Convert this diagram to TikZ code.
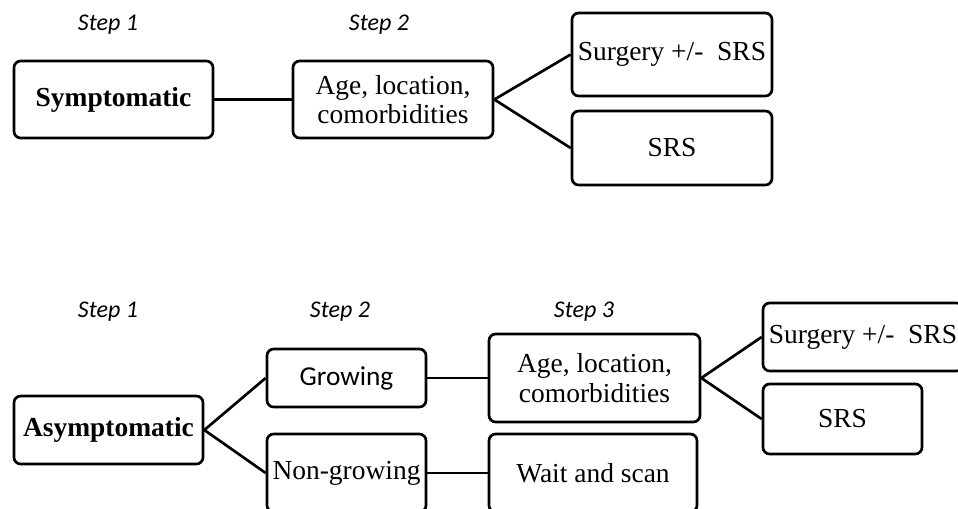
\documentclass[tikz,border=0pt]{standalone}
\usepackage{fontspec}
\setmainfont{Liberation Serif}
\newfontfamily\calibri{Carlito}
\begin{document}
\begin{tikzpicture}[x=0.75pt,y=-0.75pt,
  box/.style={draw=black,line width=2pt,rounded corners=5pt,inner sep=0pt,align=center,
    font=\fontsize{20.6}{22}\selectfont},
  link/.style={line width=2pt},
  steplabel/.style={font=\calibri\itshape\fontsize{18}{20}\selectfont,inner sep=0pt}]
\useasboundingbox (0,0) rectangle (958,508);
\clip (0,0) rectangle (958,508);
\fill[white] (0,0) rectangle (958,508);
% top row
\node[steplabel] (s1a) at (108,25) {Step 1};
\node[steplabel] (s2a) at (379,25) {Step 2};
\node[box,minimum width=149.25pt,minimum height=57.75pt] (sym) at (113.5,99.5) {\textbf{Symptomatic}};
\node[box,minimum width=150pt,minimum height=57.75pt] (age1) at (393,99.5) {Age, location,\\comorbidities};
\node[box,minimum width=150pt,minimum height=62.25pt] (surg1) at (672,54.5) {Surgery +/-\ \ SRS};
\node[box,minimum width=150pt,minimum height=55.5pt] (srs1) at (672,148) {SRS};
\draw[link] (sym) -- (age1);
\draw[link] (age1.east) -- (surg1.west);
\draw[link] (age1.east) -- (srs1.west);
% bottom row
\node[steplabel] (s1b) at (108,312) {Step 1};
\node[steplabel] (s2b) at (340,312) {Step 2};
\node[steplabel] (s3b) at (584,312) {Step 3};
\node[box,minimum width=141.75pt,minimum height=51pt] (asym) at (108.5,430) {\textbf{Asymptomatic}};
\node[box,minimum width=119.25pt,minimum height=43.5pt,font=\calibri\fontsize{20.5}{22}\selectfont] (grow) at (346.5,378) {Growing};
\node[box,minimum width=119.25pt,minimum height=58.5pt] (nongrow) at (346.5,473) {Non-growing};
\node[box,minimum width=158.25pt,minimum height=66pt,font=\fontsize{20.6}{23}\selectfont] (age2) at (594.5,378) {Age, location,\\comorbidities};
\node[box,minimum width=156pt,minimum height=58.5pt] (wait) at (593,473) {Wait and scan};
\node[box,minimum width=150pt,minimum height=51pt] (surg2) at (863,337) {Surgery +/-\ \ SRS};
\node[box,minimum width=119.25pt,minimum height=52.5pt] (srs2) at (842.5,419) {SRS};
\draw[link] (asym.east) -- (grow.west);
\draw[link] (asym.east) -- (nongrow.west);
\draw[link] (grow) -- (age2);
\draw[link] (nongrow) -- (wait);
\draw[link] (age2.east) -- (surg2.west);
\draw[link] (age2.east) -- (srs2.west);
\end{tikzpicture}
\end{document}
